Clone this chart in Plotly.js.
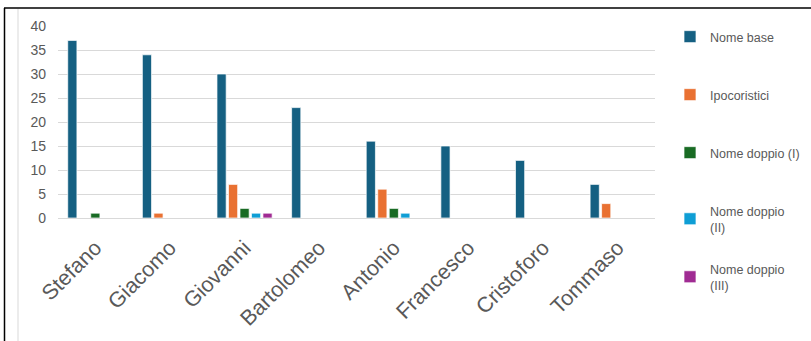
<!DOCTYPE html>
<html>
<head>
<meta charset="utf-8">
<script src="https://cdn.plot.ly/plotly-3.0.1.min.js"></script>
<style>html,body{margin:0;padding:0;background:#fff;}#chart{width:811px;height:341px;}</style>
</head>
<body>
<div id="chart"></div>
<script>
const categories = ["Stefano", "Giacomo", "Giovanni", "Bartolomeo", "Antonio", "Francesco", "Cristoforo", "Tommaso"];
const seriesNames = ["Nome base", "Ipocoristici", "Nome doppio (I)", "Nome doppio (II)", "Nome doppio (III)"];
const legendLabels = ["Nome base", "Ipocoristici", "Nome doppio (I)", "Nome doppio<br>(II)", "Nome doppio<br>(III)"];
const nomeBase = [37, 34, 30, 23, 16, 15, 12, 7];
const ipocoristici = [0, 1, 7, 0, 6, 0, 0, 3];
const nomeDoppioI = [1, 0, 2, 0, 2, 0, 0, 0];
const nomeDoppioII = [0, 0, 1, 0, 1, 0, 0, 0];
const nomeDoppioIII = [0, 0, 1, 0, 0, 0, 0, 0];
const seriesValues = [nomeBase, ipocoristici, nomeDoppioI, nomeDoppioII, nomeDoppioIII];
const colors = ["#156082", "#E97132", "#196B24", "#0F9ED5", "#A02B93"];

const L = 58, R = 156, T = 26, B = 123, W = 811, H = 341;
const pw = W - L - R, ph = H - T - B;
const px = x => (x - L) / pw;
const py = y => (H - B - y) / ph;

const legendNames = ["legend", "legend2", "legend3", "legend4", "legend5"];
const legendTopY = [22, 80, 138, 196, 254];

const traces = seriesValues.map((vals, i) => ({
  type: "bar",
  name: legendLabels[i],
  x: categories,
  y: vals,
  marker: {color: colors[i], line: {color: "rgba(255,255,255,0.7)", width: 1}},
  legend: legendNames[i],
  hoverinfo: "x+y+name"
}));

const layout = {
  width: W, height: H,
  margin: {l: L, r: R, t: T, b: B, autoexpand: false},
  paper_bgcolor: "#fff", plot_bgcolor: "#fff",
  font: {family: "Liberation Sans, Arial, sans-serif", color: "#595959"},
  barmode: "group",
  bargap: 0.23,
  bargroupgap: 0.2,
  showlegend: true,
  xaxis: {
    type: "category",
    tickangle: -45,
    tickfont: {size: 21.5, color: "#595959"},
    showgrid: false, zeroline: false, showline: false,
    ticks: "", ticklabelshift: 0, ticklabelstandoff: 12,
    automargin: false
  },
  yaxis: {
    range: [0, 40], dtick: 5,
    tickfont: {size: 14, color: "#595959"},
    gridcolor: "#d9d9d9", gridwidth: 1,
    zeroline: true, zerolinecolor: "#d9d9d9", zerolinewidth: 1,
    showline: false, ticks: "", ticklabelstandoff: 11,
    automargin: false
  },
  shapes: [
    {type: "line", xref: "paper", yref: "paper", x0: px(4), x1: px(811), y0: py(8), y1: py(8), line: {color: "#000", width: 1.5}},
    {type: "line", xref: "paper", yref: "paper", x0: px(4.5), x1: px(4.5), y0: py(8), y1: py(341), line: {color: "#000", width: 1.5}},
    {type: "line", xref: "paper", yref: "paper", x0: px(18), x1: px(18), y0: py(9), y1: py(341), line: {color: "#d9d9d9", width: 1}}
  ]
};
legendNames.forEach((ln, i) => {
  layout[ln] = {
    xref: "container", yref: "container",
    x: 670 / W, xanchor: "left",
    y: (H - legendTopY[i]) / H, yanchor: "top",
    bgcolor: "rgba(0,0,0,0)",
    font: {size: 12.5, color: "#595959", family: "Liberation Sans, Arial, sans-serif"},
    itemwidth: 30
  };
});

Plotly.newPlot("chart", traces, layout, {displayModeBar: false, staticPlot: true});
</script>
</body>
</html>
